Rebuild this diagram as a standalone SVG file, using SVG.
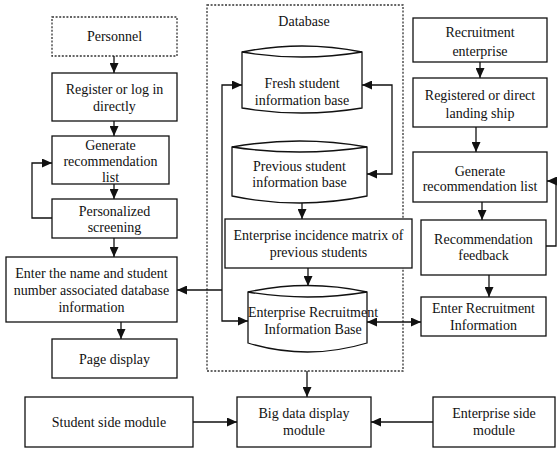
<svg xmlns="http://www.w3.org/2000/svg" width="557" height="449" viewBox="0 0 557 449">
  <defs>
    <marker id="arrow" markerUnits="userSpaceOnUse" markerWidth="10" markerHeight="9" refX="10" refY="4.5" orient="auto-start-reverse">
      <path d="M0,0 L10,4.5 L0,9 z" fill="#111"/>
    </marker>
  </defs>
  <style>
    .box { fill: #fff; stroke: #111; stroke-width: 1.3; }
    .dash { fill: none; stroke: #333; stroke-width: 1.3; stroke-dasharray: 2 1.6; }
    .cyl { fill: #fff; stroke: #111; stroke-width: 1.3; }
    .lbl { font-family: "Liberation Serif", "Times New Roman", serif; font-size: 14px; fill: #111; text-anchor: middle; }
    .conn { fill: none; stroke: #111; stroke-width: 1.3; }
  </style>

  <rect width="557" height="449" fill="#fff"/>

  <!-- database container -->
  <g id="database">
    <rect class="dash" x="207" y="5" width="196" height="366"/>
    <text class="lbl" x="304" y="26">Database</text>
  </g>

  <!-- student side -->
  <g id="personnel">
    <rect class="dash" x="52" y="17" width="125" height="39"/>
    <text class="lbl" x="114.5" y="41">Personnel</text>
  </g>
  <g id="register">
    <rect class="box" x="52" y="73" width="125" height="48"/>
    <text class="lbl" x="114.5" y="94">Register or log in</text>
    <text class="lbl" x="114.5" y="111">directly</text>
  </g>
  <g id="student-recommendation">
    <rect class="box" x="52" y="136" width="117" height="48"/>
    <text class="lbl" x="110.5" y="150">Generate</text>
    <text class="lbl" x="110.5" y="166">recommendation</text>
    <text class="lbl" x="110.5" y="182">list</text>
  </g>
  <g id="personalized">
    <rect class="box" x="52" y="199" width="125" height="39"/>
    <text class="lbl" x="114.5" y="216">Personalized</text>
    <text class="lbl" x="114.5" y="232">screening</text>
  </g>
  <g id="enter-name">
    <rect class="box" x="6" y="257" width="171" height="65"/>
    <text class="lbl" x="91.5" y="278">Enter the name and student</text>
    <text class="lbl" x="91.5" y="295">number associated database</text>
    <text class="lbl" x="91.5" y="312">information</text>
  </g>
  <g id="page-display">
    <rect class="box" x="52" y="339" width="125" height="39"/>
    <text class="lbl" x="114.5" y="364">Page display</text>
  </g>

  <!-- database stores -->
  <g id="fresh-base">
    <path class="cyl" d="M242,52 Q302,40 362,52 L362,108 Q302,118 242,108 Z"/>
    <path class="conn" d="M242,52 Q302,62 362,52"/>
    <text class="lbl" x="302" y="88">Fresh student</text>
    <text class="lbl" x="302" y="105">information base</text>
  </g>
  <g id="previous-base">
    <path class="cyl" d="M232,147 Q299.5,135 367,147 L367,196 Q299.5,210 232,196 Z"/>
    <path class="conn" d="M232,147 Q299.5,157 367,147"/>
    <text class="lbl" x="299.5" y="171">Previous student</text>
    <text class="lbl" x="299.5" y="187">information base</text>
  </g>
  <g id="incidence-matrix">
    <rect class="box" x="225" y="219" width="187" height="49"/>
    <text class="lbl" x="318.5" y="240">Enterprise incidence matrix of</text>
    <text class="lbl" x="318.5" y="257">previous students</text>
  </g>
  <g id="recruitment-base">
    <path class="cyl" d="M248,292 Q307.5,279 367,292 L367,343 Q307.5,361 248,343 Z"/>
    <path class="conn" d="M248,292 Q307.5,302 367,292"/>
    <text class="lbl" x="313" y="317">Enterprise Recruitment</text>
    <text class="lbl" x="313" y="334">Information Base</text>
  </g>

  <!-- enterprise side -->
  <g id="recruitment-enterprise">
    <rect class="box" x="413" y="18" width="134" height="44"/>
    <text class="lbl" x="480" y="37">Recruitment</text>
    <text class="lbl" x="480" y="56">enterprise</text>
  </g>
  <g id="registered">
    <rect class="box" x="413" y="78" width="134" height="49"/>
    <text class="lbl" x="480" y="100">Registered or direct</text>
    <text class="lbl" x="480" y="118">landing ship</text>
  </g>
  <g id="enterprise-recommendation">
    <rect class="box" x="413" y="152" width="134" height="50"/>
    <text class="lbl" x="480" y="176">Generate</text>
    <text class="lbl" x="480" y="191">recommendation list</text>
  </g>
  <g id="feedback">
    <rect class="box" x="421" y="220" width="125" height="55"/>
    <text class="lbl" x="483.5" y="244">Recommendation</text>
    <text class="lbl" x="483.5" y="260">feedback</text>
  </g>
  <g id="enter-recruitment">
    <rect class="box" x="421" y="297" width="125" height="39"/>
    <text class="lbl" x="483.5" y="313">Enter Recruitment</text>
    <text class="lbl" x="483.5" y="330">Information</text>
  </g>

  <!-- bottom modules -->
  <g id="student-module">
    <rect class="box" x="25" y="397" width="168" height="50"/>
    <text class="lbl" x="109" y="427">Student side module</text>
  </g>
  <g id="big-data">
    <rect class="box" x="237" y="397" width="134" height="50"/>
    <text class="lbl" x="304" y="418">Big data display</text>
    <text class="lbl" x="304" y="435">module</text>
  </g>
  <g id="enterprise-module">
    <rect class="box" x="433" y="397" width="122" height="50"/>
    <text class="lbl" x="494" y="418">Enterprise side</text>
    <text class="lbl" x="494" y="435">module</text>
  </g>

  <!-- connectors -->
  <g id="connectors" class="conn">
    <path class="conn" d="M114,56 V73" marker-end="url(#arrow)"/>
    <path class="conn" d="M114,121 V136" marker-end="url(#arrow)"/>
    <path class="conn" d="M114,184 V199" marker-end="url(#arrow)"/>
    <path class="conn" d="M52,218 H32 V163 H52" marker-end="url(#arrow)"/>
    <path class="conn" d="M114,238 V257" marker-end="url(#arrow)"/>
    <path class="conn" d="M121,322 V339" marker-end="url(#arrow)"/>

    <path class="conn" d="M362,85 H392 V174 H367" marker-start="url(#arrow)" marker-end="url(#arrow)"/>
    <path class="conn" d="M242,85 H222 V321 H248" marker-start="url(#arrow)" marker-end="url(#arrow)"/>
    <path class="conn" d="M222,290 H177" marker-end="url(#arrow)"/>
    <path class="conn" d="M302,203 V219" marker-end="url(#arrow)"/>
    <path class="conn" d="M308,268 V286" marker-end="url(#arrow)"/>
    <path class="conn" d="M367,322 H421" marker-start="url(#arrow)" marker-end="url(#arrow)"/>

    <path class="conn" d="M480,62 V78" marker-end="url(#arrow)"/>
    <path class="conn" d="M476,127 V152" marker-end="url(#arrow)"/>
    <path class="conn" d="M482,202 V220" marker-end="url(#arrow)"/>
    <path class="conn" d="M546,246 H556 V181 H547" marker-end="url(#arrow)"/>
    <path class="conn" d="M489,275 V297" marker-end="url(#arrow)"/>

    <path class="conn" d="M307,371 V397" marker-end="url(#arrow)"/>
    <path class="conn" d="M193,422 H237" marker-end="url(#arrow)"/>
    <path class="conn" d="M433,422 H371" marker-end="url(#arrow)"/>
  </g>
</svg>
